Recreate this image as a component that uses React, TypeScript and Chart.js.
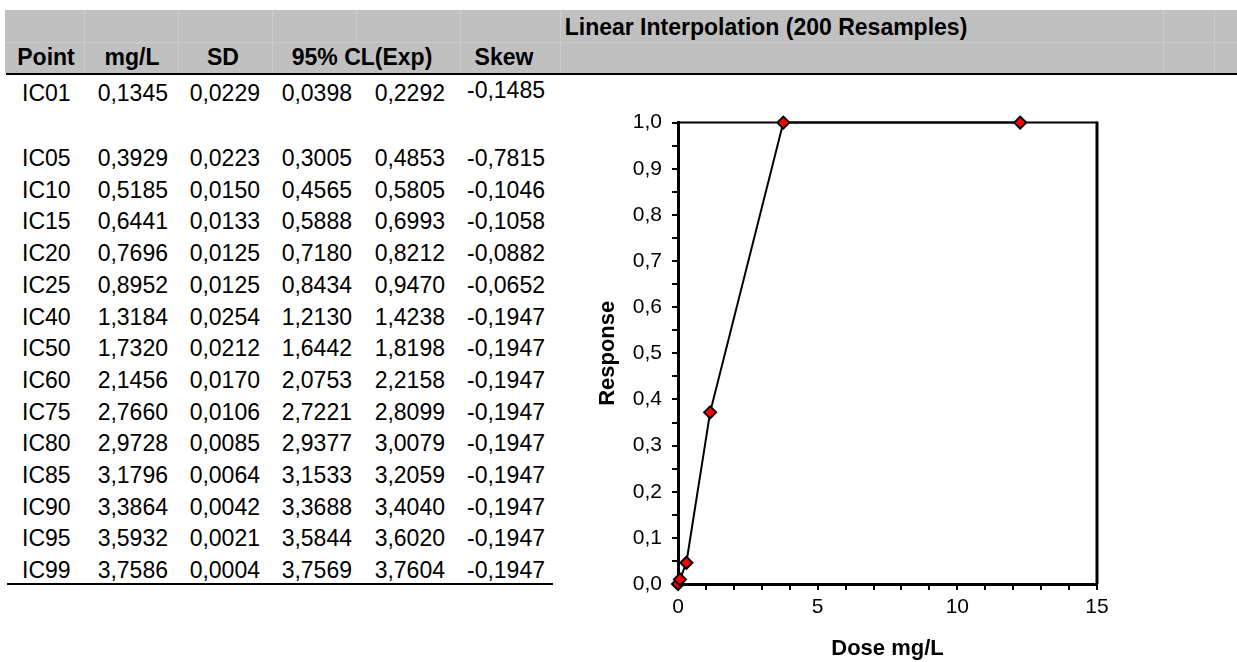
import React, { useEffect, useRef } from 'react';
import { Chart, registerables } from 'chart.js';

Chart.register(...registerables);

// ---------- Data ----------
const tableTitle = 'Linear Interpolation (200 Resamples)';
const columnHeaders = ['Point', 'mg/L', 'SD', '95% CL(Exp)', 'Skew'];
const pointNames = ['IC01', 'IC05', 'IC10', 'IC15', 'IC20', 'IC25', 'IC40', 'IC50', 'IC60', 'IC75', 'IC80', 'IC85', 'IC90', 'IC95', 'IC99'];
const mgL = ['0,1345', '0,3929', '0,5185', '0,6441', '0,7696', '0,8952', '1,3184', '1,7320', '2,1456', '2,7660', '2,9728', '3,1796', '3,3864', '3,5932', '3,7586'];
const sdValues = ['0,0229', '0,0223', '0,0150', '0,0133', '0,0125', '0,0125', '0,0254', '0,0212', '0,0170', '0,0106', '0,0085', '0,0064', '0,0042', '0,0021', '0,0004'];
const clLow = ['0,0398', '0,3005', '0,4565', '0,5888', '0,7180', '0,8434', '1,2130', '1,6442', '2,0753', '2,7221', '2,9377', '3,1533', '3,3688', '3,5844', '3,7569'];
const clHigh = ['0,2292', '0,4853', '0,5805', '0,6993', '0,8212', '0,9470', '1,4238', '1,8198', '2,2158', '2,8099', '3,0079', '3,2059', '3,4040', '3,6020', '3,7604'];
const skewValues = ['-0,1485', '-0,7815', '-0,1046', '-0,1058', '-0,0882', '-0,0652', '-0,1947', '-0,1947', '-0,1947', '-0,1947', '-0,1947', '-0,1947', '-0,1947', '-0,1947', '-0,1947'];

const doseValues = [0, 0.07, 0.3, 1.15, 3.77, 12.25];
const responseValues = [0, 0.01, 0.046, 0.372, 1.0, 1.0];

const xAxisTitle = 'Dose mg/L';
const yAxisTitle = 'Response';

// ---------- Layout ----------
const FONT = "'Liberation Sans', Arial, Helvetica, sans-serif";
const TABLE_FONT_SIZE = 23;
const headerCenters = [46, 132, 223, 362, 504];
const dataRightEdges = [168, 260, 352, 445, 545];
const firstColLeft = 22;
const ROW_H = 31.7;

function rowCenter(i: number): number {
  if (i === 0) return 93;
  return 158 + (i - 1) * ROW_H;
}

const framePlugin = {
  id: 'frameLines',
  beforeDatasetsDraw(chart: any) {
    const { ctx, chartArea } = chart;
    ctx.save();
    ctx.strokeStyle = '#000';
    ctx.lineWidth = 2;
    ctx.beginPath();
    ctx.moveTo(chartArea.left, chartArea.top);
    ctx.lineTo(chartArea.right, chartArea.top);
    ctx.stroke();
    ctx.lineWidth = 3;
    ctx.beginPath();
    ctx.moveTo(chartArea.right, chartArea.top - 1);
    ctx.lineTo(chartArea.right, chartArea.bottom);
    ctx.stroke();
    ctx.restore();
  },
};

function ResponseChart() {
  const ref = useRef<HTMLCanvasElement | null>(null);
  useEffect(() => {
    if (!ref.current) return;
    const chart = new Chart(ref.current, {
      type: 'scatter',
      data: {
        datasets: [
          {
            data: doseValues.map((x, i) => ({ x, y: responseValues[i] })),
            showLine: true,
            borderColor: '#000',
            borderWidth: 2,
            pointStyle: 'rectRot',
            pointRadius: 6,
            pointBackgroundColor: '#ff0000',
            pointBorderColor: '#000',
            pointBorderWidth: 2,
            clip: false,
            tension: 0,
          } as any,
        ],
      },
      options: {
        animation: false,
        responsive: false,
        devicePixelRatio: 1,
        layout: { padding: { left: 0, top: 21, right: 63, bottom: 0 } },
        plugins: { legend: { display: false }, tooltip: { enabled: false } },
        scales: {
          x: {
            type: 'linear',
            min: 0,
            max: 15,
            afterFit: (s: any) => { s.height = 78; },
            ticks: {
              stepSize: 1,
              autoSkip: false,
              maxRotation: 0,
              padding: 5,
              color: '#000',
              font: { family: FONT, size: 21 },
              callback: (v: any) => (Math.round(v) % 5 === 0 ? String(Math.round(v)) : ''),
            },
            grid: { display: true, drawOnChartArea: false, drawTicks: true, tickLength: 6, color: '#000', lineWidth: 2 },
            border: { display: true, color: '#000', width: 3 },
            title: { display: true, text: xAxisTitle, color: '#000', font: { family: FONT, size: 22, weight: 'bold' }, padding: { top: 0, bottom: 0 } },
          },
          y: {
            type: 'linear',
            min: 0,
            max: 1,
            afterFit: (s: any) => { s.width = 118; },
            ticks: {
              stepSize: 0.05,
              autoSkip: false,
              padding: 10,
              color: '#000',
              font: { family: FONT, size: 21 },
              callback: (v: any) => {
                const k = Math.round(v * 100);
                return k % 10 === 0 ? (k / 100).toFixed(1).replace('.', ',') : '';
              },
            },
            grid: { display: true, drawOnChartArea: false, drawTicks: true, tickLength: 6, color: '#000', lineWidth: 2 },
            border: { display: true, color: '#000', width: 3 },
            title: { display: true, text: yAxisTitle, color: '#000', font: { family: FONT, size: 22, weight: 'bold' }, padding: { top: 35, bottom: 0 } },
          },
        },
      } as any,
      plugins: [framePlugin],
    });
    return () => chart.destroy();
  }, []);
  return (
    <canvas
      ref={ref}
      width={600}
      height={562}
      style={{ position: 'absolute', left: 560, top: 100, width: 600, height: 562 }}
    />
  );
}

function Cell(props: { text: string; center: number; left?: number; right?: number; centerX?: number; bold?: boolean; size?: number }) {
  const size = props.size || TABLE_FONT_SIZE;
  const style: any = {
    position: 'absolute',
    top: props.center - 15,
    height: 30,
    lineHeight: '30px',
    fontFamily: FONT,
    fontSize: size,
    fontWeight: props.bold ? 'bold' : 'normal',
    color: '#000',
    whiteSpace: 'nowrap',
  };
  if (props.left !== undefined) {
    style.left = props.left;
    style.textAlign = 'left';
  } else if (props.right !== undefined) {
    style.left = props.right - 200;
    style.width = 200;
    style.textAlign = 'right';
  } else if (props.centerX !== undefined) {
    style.left = props.centerX - 300;
    style.width = 600;
    style.textAlign = 'center';
  }
  return <div style={style}>{props.text}</div>;
}

export default function App() {
  const faintV = [84, 178, 272, 460, 560, 1163, 1214];
  return (
    <div style={{ position: 'absolute', left: 0, top: 0, width: 1237, height: 662, background: '#fff', overflow: 'hidden' }}>
      {/* gray header band */}
      <div style={{ position: 'absolute', left: 5, top: 10, width: 1232, height: 63, background: '#c0c0c0' }} />
      {faintV.map((x) => (
        <div key={'v' + x} style={{ position: 'absolute', left: x, top: 10, width: 1, height: 63, background: '#cdcdcd' }} />
      ))}
      <div style={{ position: 'absolute', left: 356, top: 10, width: 1, height: 32, background: '#cdcdcd' }} />
      <div style={{ position: 'absolute', left: 5, top: 42, width: 1232, height: 1, background: '#cdcdcd' }} />
      <div style={{ position: 'absolute', left: 6, top: 73, width: 1231, height: 2, background: '#000' }} />

      <Cell text={tableTitle} center={27} centerX={766} bold />
      {columnHeaders.map((h, i) => (
        <Cell key={'h' + i} text={h} center={57} centerX={headerCenters[i]} bold />
      ))}

      {pointNames.map((p, i) => {
        const c = rowCenter(i);
        const cols = [mgL[i], sdValues[i], clLow[i], clHigh[i], skewValues[i]];
        return (
          <React.Fragment key={p}>
            <Cell text={p} center={c} left={firstColLeft} />
            {cols.map((t, j) => (
              <Cell key={j} text={t} center={i === 0 && j === 4 ? c - 3 : c} right={dataRightEdges[j]} />
            ))}
          </React.Fragment>
        );
      })}
      <div style={{ position: 'absolute', left: 7, top: 583, width: 546, height: 2, background: '#000' }} />

      <ResponseChart />
    </div>
  );
}
